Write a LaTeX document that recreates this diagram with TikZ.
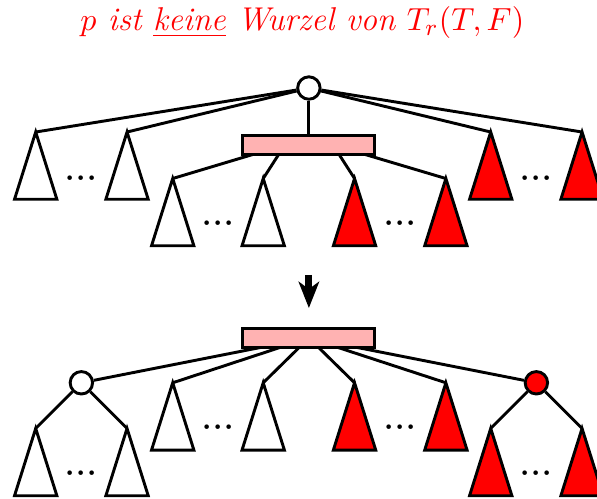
\documentclass[tikz,border=0pt]{standalone}
\usepackage{amsmath}
\usepackage{amssymb}
\usepackage{tikz}
\usetikzlibrary{arrows.meta,backgrounds,positioning}

\newcommand{\pkt}{{\boldmath$\mathord{\cdot}\mkern1mu\mathord{\cdot}\mkern1mu\mathord{\cdot}$}}

\begin{document}
\begin{tikzpicture}[line width=1pt,
	knoten/.style={circle,draw,fill=white,minimum size=0.27cm,inner sep=0pt},
	liste/.style={rectangle,draw,fill=red!30,minimum width=1.59cm,minimum height=0.23cm,inner sep=0pt},
	kante/.style={line width=1pt},
	teilbaum/.pic={
		\coordinate (-spitze) at (0,0);
		\draw[pic actions] (0,0) -- (-0.255,-0.81) -- (0.255,-0.81) -- cycle;
	}]
	\useasboundingbox (0,0) rectangle (7.19,-6.0);

	\node[red,font=\fontsize{11.3}{13}\selectfont] (titel) at (3.64,-0.27) {\textit{$p$ ist \underline{keine} Wurzel von $T_r(T,F)$}};

	% vorher
	\node[knoten] (wurzel) at (3.72,-1.06) {};
	\node[liste] (oben) [below=0.4cm of wurzel] {};
	\coordinate (ol) at ([xshift=-0.29cm]oben.center);
	\coordinate (or) at ([xshift=0.29cm]oben.center);

	\pic (a1) at (0.43,-1.59) {teilbaum};
	\pic (a2) at (1.53,-1.59) {teilbaum};
	\pic (b1) at (2.08,-2.15) {teilbaum};
	\pic (b2) at (3.17,-2.15) {teilbaum};
	\pic[fill=red] (c1) at (4.27,-2.15) {teilbaum};
	\pic[fill=red] (c2) at (5.37,-2.15) {teilbaum};
	\pic[fill=red] (d1) at (5.91,-1.59) {teilbaum};
	\pic[fill=red] (d2) at (7.01,-1.59) {teilbaum};

	\node (p1) at (0.98,-2.15) {\pkt};
	\node (p2) at (6.46,-2.15) {\pkt};
	\node (p3) at (2.63,-2.69) {\pkt};
	\node (p4) at (4.82,-2.69) {\pkt};

	\begin{scope}[on background layer]
		\draw[kante] (wurzel) -- (a1-spitze);
		\draw[kante] (wurzel) -- (a2-spitze);
		\draw[kante] (wurzel) -- (d1-spitze);
		\draw[kante] (wurzel) -- (d2-spitze);
		\draw[kante] (wurzel) -- (oben);
		\draw[kante] (ol) -- (b1-spitze);
		\draw[kante] (ol) -- (b2-spitze);
		\draw[kante] (or) -- (c1-spitze);
		\draw[kante] (or) -- (c2-spitze);
	\end{scope}

	\coordinate (pfeilA) at (3.72,-3.31);
	\coordinate (pfeilB) at (3.72,-3.71);
	\draw[-{Stealth[length=9pt,width=7pt,inset=2.5pt]},line width=2.4pt] (pfeilA) -- (pfeilB);

	% nachher
	\node[liste] (unten) at (3.72,-4.07) {};
	\node[knoten] (links) at (0.98,-4.61) {};
	\node[knoten,fill=red] (rechts) at (6.46,-4.61) {};

	\pic (e1) at (0.43,-5.16) {teilbaum};
	\pic (e2) at (1.53,-5.16) {teilbaum};
	\pic (f1) at (2.08,-4.61) {teilbaum};
	\pic (f2) at (3.17,-4.61) {teilbaum};
	\pic[fill=red] (g1) at (4.27,-4.61) {teilbaum};
	\pic[fill=red] (g2) at (5.37,-4.61) {teilbaum};
	\pic[fill=red] (h1) at (5.91,-5.16) {teilbaum};
	\pic[fill=red] (h2) at (7.01,-5.16) {teilbaum};

	\node (p5) at (0.98,-5.70) {\pkt};
	\node (p6) at (6.46,-5.70) {\pkt};
	\node (p7) at (2.63,-5.15) {\pkt};
	\node (p8) at (4.82,-5.15) {\pkt};

	\begin{scope}[on background layer]
		\draw[kante] (unten.center) -- (links);
		\draw[kante] (unten.center) -- (f1-spitze);
		\draw[kante] (unten.center) -- (f2-spitze);
		\draw[kante] (unten.center) -- (g1-spitze);
		\draw[kante] (unten.center) -- (g2-spitze);
		\draw[kante] (unten.center) -- (rechts);
		\draw[kante] (links) -- (e1-spitze);
		\draw[kante] (links) -- (e2-spitze);
		\draw[kante] (rechts) -- (h1-spitze);
		\draw[kante] (rechts) -- (h2-spitze);
	\end{scope}
\end{tikzpicture}
\end{document}
